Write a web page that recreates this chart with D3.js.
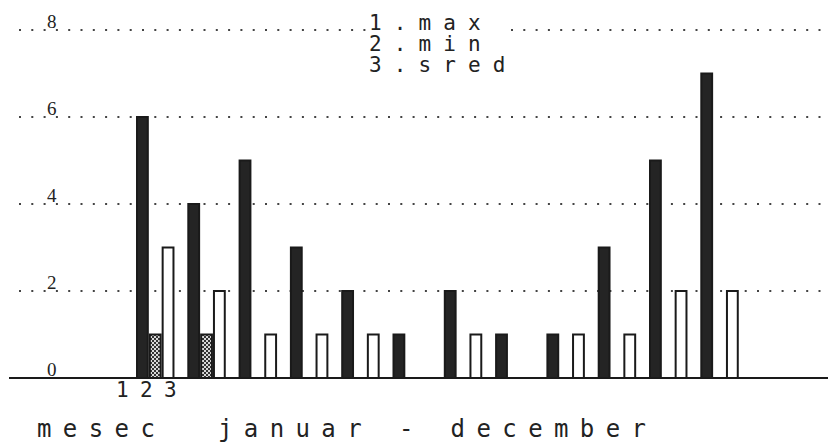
<!DOCTYPE html>
<html>
    <head>
        <script src="https://d3js.org/d3.v7.js"></script>
        <style>
            body{
                margin: 0;
                background: #fff;
            }
            .pix{
                font-family: 'DejaVu Sans Mono', monospace;
                fill: #222;
            }
            .ylab{
                font-family: 'Liberation Serif', serif;
                font-size: 19px;
                fill: #222;
            }
        </style>
    </head>
    <body>
        <div class="graph">
            <script>
                const months = d3.range(1, 13)
                const series = ['max', 'min', 'sred']
                const maxValues = [6, 4, 5, 3, 2, 1, 2, 1, 1, 3, 5, 7]
                const minValues = [1, 1, 0, 0, 0, 0, 0, 0, 0, 0, 0, 0]
                const sredValues = [3, 2, 1, 1, 1, 0, 1, 0, 1, 1, 2, 2]
                const yTicks = [0, 2, 4, 6, 8]
                const legendLines = ['1.max', '2.min', '3.sred']
                const seriesLabel = '123'
                const xTitle = 'mesec  januar - december'

                const w = 830
                const h = 442

                const svg = d3.select('.graph')
                        .append('svg')
                        .attr('width', w)
                        .attr('height', h)

                const defs = svg.append('defs')
                const check = defs.append('pattern')
                        .attr('id', 'check')
                        .attr('width', 4)
                        .attr('height', 4)
                        .attr('patternUnits', 'userSpaceOnUse')
                check.append('rect').attr('width', 4).attr('height', 4).attr('fill', '#d8d8d8')
                check.append('rect').attr('width', 2).attr('height', 2).attr('fill', '#333')
                check.append('rect').attr('x', 2).attr('y', 2).attr('width', 2).attr('height', 2).attr('fill', '#333')

                const y = d3.scaleLinear()
                        .domain([0, 8])
                        .range([378, 30])

                const x = d3.scaleBand()
                        .domain(months)
                        .range([136, 136 + 11.75 * 51.3])
                        .paddingInner(0.25)
                        .paddingOuter(0)

                const xs = d3.scaleBand()
                        .domain(series)
                        .range([0, x.bandwidth()])

                // dotted grid lines
                svg.append('g')
                    .selectAll('line')
                    .data(yTicks.filter(d => d > 0))
                    .enter()
                    .append('line')
                    .attr('x1', 19)
                    .attr('x2', w)
                    .attr('y1', d => y(d))
                    .attr('y2', d => y(d))
                    .attr('stroke', '#444')
                    .attr('stroke-width', 2)
                    .attr('stroke-dasharray', '2,10.3')

                svg.append('g')
                    .selectAll('text')
                    .data(yTicks)
                    .enter()
                    .append('text')
                    .attr('class', 'ylab')
                    .attr('x', 47)
                    .attr('y', d => y(d) - 2)
                    .text(d => d)

                // legend (blanks out grid behind it)
                svg.append('rect')
                    .attr('x', 366)
                    .attr('y', 12)
                    .attr('width', 138)
                    .attr('height', 66)
                    .attr('fill', '#fff')

                svg.append('g')
                    .selectAll('text')
                    .data(legendLines)
                    .enter()
                    .append('text')
                    .attr('class', 'pix')
                    .attr('x', 369)
                    .attr('y', (d, i) => 30 + i * 21)
                    .style('font-size', '21px')
                    .style('letter-spacing', '12.1px')
                    .text(d => d)

                const data = []
                months.forEach((m, i) => {
                    data.push({m: m, s: 'max', v: maxValues[i]})
                    data.push({m: m, s: 'min', v: minValues[i]})
                    data.push({m: m, s: 'sred', v: sredValues[i]})
                })

                const fills = {max: '#242424', min: 'url(#check)', sred: '#fff'}

                svg.append('g')
                    .selectAll('rect')
                    .data(data.filter(d => d.v > 0))
                    .enter()
                    .append('rect')
                    .attr('x', d => x(d.m) + xs(d.s) + 1)
                    .attr('y', d => y(d.v))
                    .attr('width', xs.bandwidth() - 2)
                    .attr('height', d => y(0) - y(d.v))
                    .attr('fill', d => fills[d.s])
                    .attr('stroke', '#1a1a1a')
                    .attr('stroke-width', 2)

                // baseline
                svg.append('line')
                    .attr('x1', 9)
                    .attr('x2', 828)
                    .attr('y1', y(0))
                    .attr('y2', y(0))
                    .attr('stroke', '#1a1a1a')
                    .attr('stroke-width', 2)

                svg.append('text')
                    .attr('class', 'pix')
                    .attr('x', 116)
                    .attr('y', 397)
                    .style('font-size', '21px')
                    .style('letter-spacing', '11.4px')
                    .text(seriesLabel)

                svg.append('text')
                    .attr('class', 'pix')
                    .attr('x', 37)
                    .attr('y', 437)
                    .style('font-size', '24px')
                    .style('letter-spacing', '11.4px')
                    .style('white-space', 'pre')
                    .text(xTitle)
            </script>
        </div>
    </body>
</html>
